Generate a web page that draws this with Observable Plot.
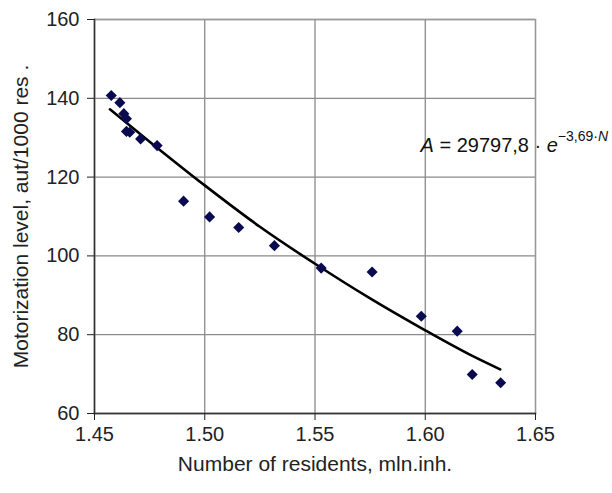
<!DOCTYPE html>
<html><head><meta charset="utf-8">
<script src="https://cdn.jsdelivr.net/npm/d3@7"></script>
<script src="https://cdn.jsdelivr.net/npm/@observablehq/plot@0.6"></script>
<style>
body{margin:0;background:#fff;}
#chart svg{font-family:"Liberation Sans",Arial,sans-serif;}
</style>
</head><body><div id="chart"></div>
<script>
// Observed points
const residents = [1.4576,1.4615,1.4633,1.4645,1.4645,1.4660,1.4709,1.4784,1.4904,1.5022,1.5154,1.5316,1.5528,1.5759,1.5982,1.6145,1.6213,1.6342];
const motorization = [140.7,138.9,136.1,134.8,131.6,131.4,129.7,128.0,113.9,109.9,107.2,102.6,96.9,95.9,84.7,80.9,69.9,67.8];
// Trend line
const trendResidents = [1.457,1.475,1.50,1.525,1.55,1.575,1.60,1.62,1.634];
const trendMotorization = [137.2,129.0,117.9,107.4,98.0,89.2,81.1,75.0,71.2];
// Axes
const xTicks = [1.45,1.50,1.55,1.60,1.65];
const yTicks = [60,80,100,120,140,160];
const xLabel = "Number of residents, mln.inh.";
const yLabel = "Motorization level, aut/1000 res .";
const formulaText = "A = 29797,8 · e";

const points = residents.map((n, i) => ({N: n, A: motorization[i]}));
const trend = trendResidents.map((n, i) => ({N: n, A: trendMotorization[i]}));

const chart = Plot.plot({
  width: 612,
  height: 493,
  marginLeft: 94,
  marginRight: 77,
  marginTop: 19,
  marginBottom: 80,
  style: {background: "#fff", color: "#222", fontFamily: "'Liberation Sans', Arial, sans-serif"},
  x: {domain: [1.45, 1.65]},
  y: {domain: [60, 160]},
  marks: [
    Plot.gridX(xTicks, {stroke: "#8a8a8a", strokeOpacity: 1, strokeWidth: 1.3}),
    Plot.gridY(yTicks, {stroke: "#8a8a8a", strokeOpacity: 1, strokeWidth: 1.3}),
    Plot.frame({stroke: "#999", strokeWidth: 1.3}),
    Plot.frame({anchor: "left", stroke: "#333", strokeWidth: 1.5}),
    Plot.frame({anchor: "bottom", stroke: "#333", strokeWidth: 1.5}),
    Plot.axisX({ticks: xTicks, tickFormat: d3.format(".2f"), tickSize: 7, tickPadding: 6, fontSize: 20,
      label: xLabel, labelAnchor: "center", labelOffset: 57, labelArrow: "none"}),
    Plot.axisY({ticks: yTicks, tickSize: 7, tickPadding: 8, fontSize: 20,
      label: yLabel, labelAnchor: "center", labelOffset: 81, labelArrow: "none"}),
    Plot.line(trend, {x: "N", y: "A", stroke: "#000", strokeWidth: 2.6, curve: "monotone-x"}),
    Plot.dot(points, {x: "N", y: "A", symbol: "diamond2", r: 5, fill: "#0a0a50", stroke: "none"}),
    Plot.text([formulaText], {frameAnchor: "top-left", dx: 326, dy: 132, text: d => d, fontSize: 20,
      textAnchor: "start", lineAnchor: "bottom", className: "formula", fill: "#111"})
  ]
});

document.getElementById("chart").appendChild(chart);

// Slightly larger axis titles
d3.select(chart).selectAll('g[aria-label="x-axis label"], g[aria-label="y-axis label"]')
  .attr("font-size", 21);
d3.select(chart).selectAll('g[aria-label="x-axis label"] text, g[aria-label="y-axis label"] text')
  .attr("font-size", 21);

// Build formula with italics and superscript
const t = d3.select(chart).select("g.formula text");
if (!t.empty()) {
  t.text(null);
  t.append("tspan").attr("font-style", "italic").text("A");
  t.append("tspan").text(" = 29797,8 · ");
  t.append("tspan").attr("font-style", "italic").text("e");
  t.append("tspan").attr("font-size", 14).attr("dy", "-0.72em").text("−3,69·");
  t.append("tspan").attr("font-size", 14).attr("font-style", "italic").text("N");
}
</script>
</body></html>
